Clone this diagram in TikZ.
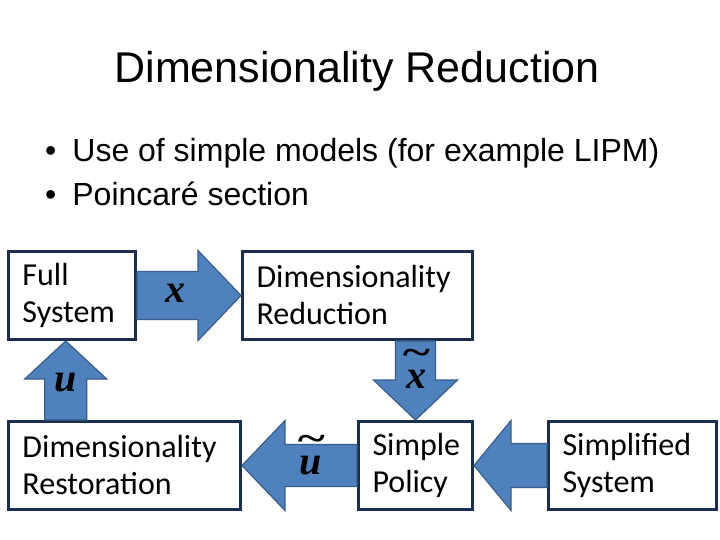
\documentclass[tikz,border=0pt]{standalone}
\usepackage{fontspec}
\setmainfont{Liberation Sans}
\newfontfamily\boxfont{Carlito}
\newfontfamily\varfont{Liberation Serif}
\usetikzlibrary{calc}

\definecolor{boxline}{HTML}{1B2E4E}
\definecolor{arrfill}{HTML}{4F81BD}
\definecolor{arrline}{HTML}{385D8A}

% tilde set over a letter
\newcommand{\tld}[1]{\ooalign{#1\cr\hidewidth\raisebox{0.58em}{\scalebox{1.3}[0.9]{\textasciitilde}}\hidewidth\cr}}

% block arrow: from, to, half shaft, half head, head length
\newcommand{\blockarrow}[5]{%
  \coordinate (ba-c) at ($(#2)!#5!(#1)$);
  \filldraw[blockarr] ($(#1)!#3!90:(#2)$) -- ($(ba-c)!#3!90:(#2)$)
    -- ($(ba-c)!#4!90:(#2)$) -- (#2) -- ($(ba-c)!#4!-90:(#2)$)
    -- ($(ba-c)!#3!-90:(#2)$) -- ($(#1)!#3!-90:(#2)$) -- cycle;
}

\begin{document}
\begin{tikzpicture}[
	x=1bp, y=-1bp,
	title/.style={font=\fontsize{43bp}{50bp}\selectfont, inner sep=0pt, anchor=base},
	bullet/.style={font=\fontsize{32bp}{38bp}\selectfont, inner sep=0pt, anchor=base west},
	box/.style={draw=boxline, line width=3bp, fill=white, align=left, inner xsep=14bp,
		minimum height=88bp, font=\boxfont\fontsize{32bp}{37bp}\selectfont},
	blockarr/.style={fill=arrfill, draw=arrline, line width=1.2bp, line join=miter},
	varlab/.style={font=\varfont\bfseries\itshape\fontsize{40bp}{40bp}\selectfont, inner sep=0pt}
]
\useasboundingbox (0,0) rectangle (720,540);

% heading
\node[title] (head) at (357,83) {Dimensionality Reduction};
\node[bullet] (b1) at (45,162) {\textbullet\hskip 16bp Use of simple models (for example LIPM)};
\node[bullet] (b2) at (45,206) {\textbullet\hskip 16bp Poincaré section};

% boxes
\node[box, minimum width=127bp, text width=99bp] (full) at (72,295.5) {Full\\System};
\node[box, minimum width=230bp, text width=202bp] (dimred) at (357.5,295.5) {Dimensionality\\Reduction};
\node[box, minimum width=232bp, text width=204bp] (rest) at (124.5,465.5) {Dimensionality\\Restoration};
\node[box, minimum width=114bp, text width=86bp] (pol) at (415.5,465.5) {Simple\\Policy};
\node[box, minimum width=168bp, text width=140bp] (simp) at (632.5,465.5) {Simplified\\System};

% arrows
\coordinate (ustart) at ($(rest.north west)!.25!(rest.north east)$);
\coordinate (uend) at (full.south -| ustart);
\coordinate (xtstart) at (dimred.south -| pol.north);
\blockarrow{full.east}{dimred.west}{24bp}{45bp}{43bp}
\blockarrow{ustart}{uend}{21bp}{41bp}{38bp}
\blockarrow{xtstart}{pol.north}{20bp}{42bp}{40bp}
\blockarrow{pol.west}{rest.east}{21bp}{45bp}{43bp}
\blockarrow{simp.west}{pol.east}{22bp}{45bp}{37bp}

% arrow labels
\node[varlab] (xlab) at (175,293) {x};
\node[varlab] (ulab) at (66,383) {u};
\node[varlab] (xtlab) at (416,379) {\tld{x}};
\node[varlab] (utlab) at (311,465) {\tld{u}};
\end{tikzpicture}
\end{document}
